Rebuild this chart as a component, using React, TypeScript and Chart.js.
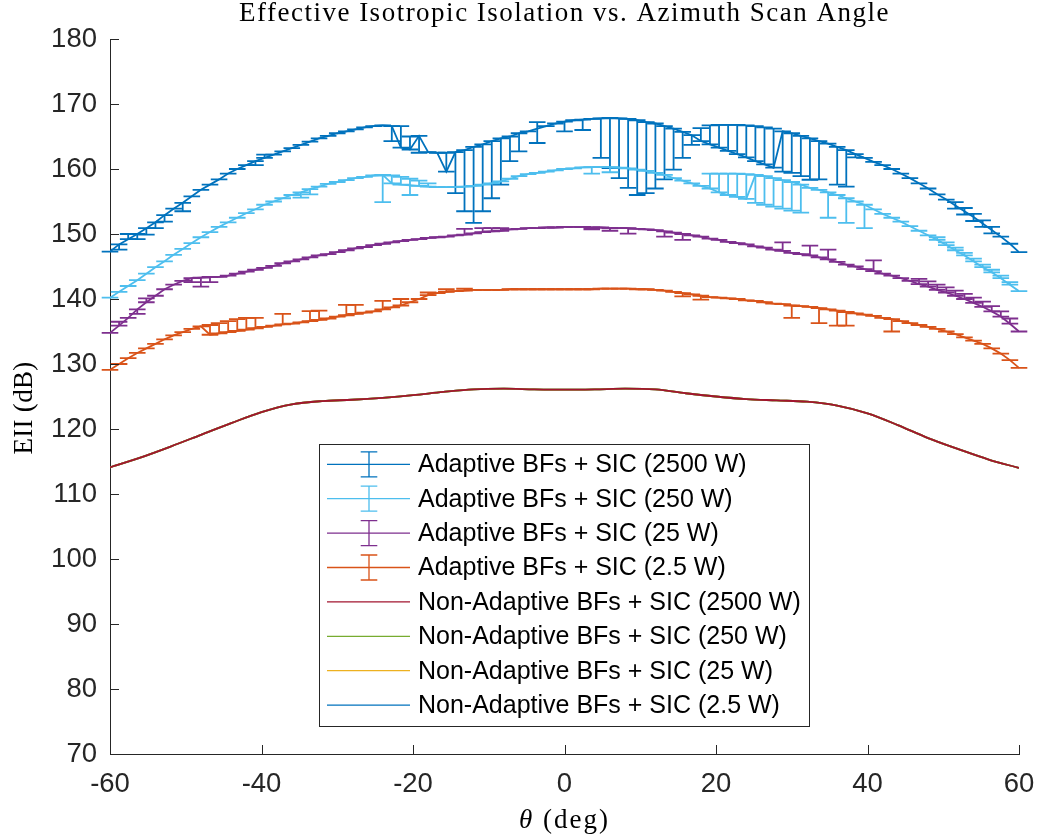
import React, { useEffect, useRef } from 'react';
import { Chart, registerables } from 'chart.js';

Chart.register(...registerables);

// ---------------- data ----------------
const thetaDeg = [
  -60, -58.8, -57.6, -56.4, -55.2, -54, -52.8, -51.6, -50.4, -49.2,
  -48, -46.8, -45.6, -44.4, -43.2, -42, -40.8, -39.6, -38.4, -37.2,
  -36, -34.8, -33.6, -32.4, -31.2, -30, -28.8, -27.6, -26.4, -25.2,
  -24, -22.8, -21.6, -20.4, -19.2, -18, -16.8, -15.6, -14.4, -13.2,
  -12, -10.8, -9.6, -8.4, -7.2, -6, -4.8, -3.6, -2.4, -1.2,
  0, 1.2, 2.4, 3.6, 4.8, 6, 7.2, 8.4, 9.6, 10.8,
  12, 13.2, 14.4, 15.6, 16.8, 18, 19.2, 20.4, 21.6, 22.8,
  24, 25.2, 26.4, 27.6, 28.8, 30, 31.2, 32.4, 33.6, 34.8,
  36, 37.2, 38.4, 39.6, 40.8, 42, 43.2, 44.4, 45.6, 46.8,
  48, 49.2, 50.4, 51.6, 52.8, 54, 55.2, 56.4, 57.6, 58.8,
  60,
];

// Adaptive BFs + SIC (2500 W)
const eii2500 = [
  147.3, 148.4, 149.2, 150.0, 150.9, 151.8, 152.9, 153.9, 154.8, 155.8,
  156.8, 157.6, 158.4, 159.3, 160.0, 160.6, 161.2, 161.7, 162.2, 162.7,
  163.2, 163.7, 164.2, 164.7, 165.1, 165.5, 165.8, 166.1, 166.4, 166.6,
  166.7, 166.6, 163.3, 163.0, 165.1, 162.6, 162.5, 159.6, 162.6, 162.9,
  163.4, 163.8, 164.3, 164.7, 165.0, 165.5, 165.8, 166.2, 166.6, 167.0,
  167.3, 167.5, 167.6, 167.7, 167.8, 167.85, 167.8, 167.7, 167.5, 167.2,
  167.0, 166.6, 166.2, 165.7, 165.2, 164.3, 163.8, 163.3, 162.8, 162.3,
  161.8, 161.2, 160.7, 160.2, 165.8, 165.5, 165.1, 164.7, 164.3, 163.9,
  163.4, 162.9, 162.3, 161.7, 161.1, 160.6, 160.0, 159.3, 158.6, 157.8,
  157.0, 156.1, 155.3, 154.4, 153.5, 152.6, 151.6, 150.6, 149.6, 148.5,
  147.2,
];
const eii2500Lo = [
  0, 0.8, 0, 0.8, 1.0, 0.9, 1.0, 0, 1.3, 0,
  0, 0, 0, 0, 0, 0, 0.6, 0, 0, 0,
  0, 0, 0, 0, 0, 0, 0, 0, 0, 0,
  0, 2.3, 0, 0, 2.6, 0, 0, 0, 6.3, 9.4,
  11.7, 10.3, 8.8, 7.1, 3.8, 2.8, 0, 2.2, 0, 0,
  1.5, 0, 1.6, 0, 6.1, 7.7, 9.2, 10.6, 11.5, 10.9,
  10.0, 8.2, 6.3, 4.0, 1.5, 0, 0, 0, 0, 0,
  0, 0, 0, 0, 6.2, 6.1, 6.2, 6.35, 5.9, 0,
  5.8, 5.6, 0.5, 0, 0, 0, 0, 0, 0, 0,
  0, 0, 0, 0.5, 0.5, 0.6, 0.5, 0.5, 0, 0,
  0,
];
const eii2500Hi = [
  0, 0, 0.8, 0, 0, 0, 0, 0, 0, 0,
  0, 0, 0, 0, 0, 0, 0, 0.5, 0, 0,
  0, 0, 0, 0, 0, 0, 0, 0, 0, 0,
  0, 0, 3.3, 2.0, 0, 0, 0, 2.9, 0, 0,
  0, 0, 0, 0, 0, 0, 0, 1.0, 0, 0,
  0, 0, 0, 0, 0, 0, 0, 0, 0, 0,
  0, 0, 0, 0, 0, 2.0, 2.9, 3.5, 4.0, 4.5,
  4.9, 5.4, 5.7, 6.0, 0, 0, 0, 0, 0, 0,
  0, 0, 0, 0, 0, 0, 0, 0, 0, 0,
  0, 0, 0, 0.5, 0.5, 0.5, 0.5, 0.5, 0, 0,
  0,
];

// Adaptive BFs + SIC (250 W)
const eii250 = [
  140.2, 141.1, 142.0, 142.9, 143.9, 144.9, 145.8, 146.8, 147.7, 148.6,
  149.5, 150.3, 151.1, 151.8, 152.5, 153.2, 153.8, 154.5, 155.0, 155.5,
  156.0, 156.4, 156.9, 157.3, 157.7, 158.0, 158.3, 158.6, 158.8, 159.0,
  159.1, 157.8, 157.6, 157.5, 157.4, 157.3, 157.2, 157.2, 157.2, 157.3,
  157.4, 157.6, 157.8, 158.1, 158.5, 158.9, 159.2, 159.4, 159.6, 159.8,
  160.0, 160.1, 160.25, 160.3, 160.3, 160.3, 160.2, 160.1, 159.9, 159.7,
  159.4, 159.1, 158.6, 158.2, 157.8, 157.4, 157.0, 156.4, 156.0, 155.7,
  155.4, 159.1, 158.9, 158.6, 158.3, 158.0, 157.6, 157.1, 156.8, 156.4,
  156.0, 155.5, 155.0, 154.5, 153.8, 153.1, 152.5, 151.9, 151.2, 150.5,
  149.8, 149.1, 148.3, 147.5, 146.7, 145.8, 144.9, 144.1, 143.2, 142.2,
  141.2,
];
const eii250Lo = [
  0, 0, 0, 0, 0, 0, 0, 0, 0, 0,
  0, 0, 0, 0, 0, 0, 0, 0, 0, 0,
  0, 0.8, 0.8, 0, 0, 0, 0, 0, 0, 0,
  4.2, 0, 0, 1.5, 0, 0, 0, 0, 0, 0,
  0, 0, 0, 0, 0, 0, 0, 0, 0, 0,
  0, 0, 0, 1.0, 0, 0.8, 0, 0, 0, 0,
  0, 0, 0, 0, 0, 0, 0, 0, 0, 0,
  0, 4.3, 4.4, 4.4, 4.4, 4.4, 4.3, 0, 0, 3.9,
  0, 3.8, 0, 3.6, 0, 0, 0, 0, 0, 0,
  0, 0, 0, 0, 0, 0, 0, 0, 0, 0,
  0,
];
const eii250Hi = [
  0, 0, 0, 0, 0, 0, 0, 0, 0, 0,
  0, 0, 0, 0, 0, 0, 0, 0, 0, 0,
  0, 0, 0, 0, 0, 0, 0, 0, 0, 0,
  0, 1.2, 1.2, 1.0, 0.8, 0.5, 0, 0, 0, 0,
  0, 0, 0, 0, 0, 0, 0, 0, 0, 0,
  0, 0, 0, 0, 0, 0, 0, 0, 0, 0,
  0, 0, 0, 0, 0, 0, 2.3, 2.9, 3.3, 3.6,
  3.8, 0, 0, 0, 0, 0, 0, 0, 0, 0,
  0, 0, 0, 0, 0, 0, 0, 0, 0, 0,
  0, 0.4, 0.4, 0.4, 0.4, 0.4, 0.4, 0.4, 0.4, 0.4,
  0,
];

// Adaptive BFs + SIC (25 W)
const eii25 = [
  134.8, 135.9, 137.1, 138.4, 139.5, 140.5, 141.5, 142.2, 142.8, 143.2,
  143.3, 143.4, 143.4, 143.6, 143.9, 144.2, 144.5, 144.8, 145.1, 145.5,
  145.8, 146.1, 146.4, 146.7, 146.9, 147.2, 147.5, 147.8, 148.0, 148.3,
  148.5, 148.7, 148.9, 149.1, 149.2, 149.4, 149.5, 149.6, 149.8, 149.9,
  150.1, 150.3, 150.4, 150.5, 150.7, 150.8, 150.9, 150.9, 151.0, 151.0,
  151.1, 151.1, 151.1, 151.0, 151.0, 150.9, 150.9, 150.9, 150.8, 150.7,
  150.6, 150.4, 150.2, 150.0, 149.8, 149.6, 149.3, 149.1, 148.8, 148.6,
  148.4, 148.1, 147.9, 147.6, 147.4, 147.1, 146.9, 146.7, 146.4, 146.1,
  145.7, 145.3, 145.0, 144.6, 144.3, 143.9, 143.6, 143.2, 142.8, 142.3,
  141.9, 141.4, 141.0, 140.5, 140.0, 139.4, 138.8, 138.1, 137.3, 136.2,
  135.0,
];
const eii25Lo = [
  0, 0, 0, 0.7, 0, 0, 0, 0, 0, 0.6,
  1.4, 0.8, 0, 0, 0, 0, 0, 0, 0, 0,
  0, 0, 0, 0, 0, 0, 0, 0, 0, 0,
  0, 0, 0, 0, 0, 0, 0, 0, 0, 0,
  0, 0, 0, 0, 0, 0, 0, 0, 0, 0,
  0, 0, 0, 0.3, 0, 0.4, 0, 0.85, 0, 0,
  0, 0.8, 0, 0.9, 0, 0, 0, 0, 0, 0,
  0, 0, 0, 0, 0, 0, 0, 0, 0, 0,
  0, 0, 0, 0, 0, 0, 0, 0, 0, 0,
  0, 0, 0, 0, 0, 0, 0, 0, 0, 0,
  0,
];
const eii25Hi = [
  0, 0.6, 0, 0, 0.6, 0, 0, 0, 0, 0,
  0, 0, 0, 0, 0, 0, 0, 0, 0, 0,
  0, 0, 0, 0, 0, 0, 0, 0, 0, 0,
  0, 0, 0, 0, 0, 0, 0, 0, 0, 0.9,
  0, 0.6, 0.5, 0.4, 0, 0, 0, 0, 0, 0,
  0, 0, 0, 0, 0, 0, 0, 0, 0, 0,
  0, 0, 0, 0, 0, 0, 0, 0, 0, 0,
  0, 0, 0, 0, 1.3, 0, 0, 1.5, 0, 1.5,
  0, 0, 0, 0, 1.65, 0, 0, 0, 0, 0.8,
  0.8, 0.8, 0.8, 0.8, 0.8, 0.8, 0.8, 0.8, 0.8, 0.8,
  0,
];

// Adaptive BFs + SIC (2.5 W)
const eii2p5 = [
  129.1, 130.0, 130.9, 131.7, 132.4, 133.1, 133.8, 134.4, 134.9, 135.4,
  135.8, 134.5, 134.7, 134.9, 135.1, 135.3, 135.5, 135.7, 135.9, 136.1,
  136.2, 136.4, 136.6, 136.8, 137.0, 137.3, 137.5, 137.7, 137.9, 138.1,
  138.4, 138.7, 139.0, 139.5, 140.0, 140.6, 140.9, 141.1, 141.2, 141.3,
  141.4, 141.4, 141.4, 141.4, 141.5, 141.5, 141.5, 141.5, 141.5, 141.5,
  141.5, 141.5, 141.5, 141.5, 141.6, 141.6, 141.6, 141.6, 141.5, 141.5,
  141.4, 141.3, 141.1, 140.9, 140.7, 140.5, 140.3, 140.2, 140.1, 140.0,
  139.8, 139.7, 139.5, 139.3, 139.2, 139.0, 138.9, 138.8, 138.6, 138.4,
  138.2, 138.0, 137.8, 137.6, 137.4, 137.1, 136.9, 136.6, 136.3, 136.0,
  135.7, 135.4, 135.0, 134.6, 134.1, 133.6, 133.1, 132.4, 131.6, 130.6,
  129.4,
];
const eii2p5Lo = [
  0, 0, 0, 0, 0, 0, 0, 0, 0, 0,
  0, 0, 0, 0, 0, 0, 0, 0, 0, 0,
  0, 0, 0, 0, 0, 0, 0, 0, 0, 0,
  0, 0, 0, 0, 0, 0, 0, 0, 0, 0,
  0, 0, 0, 0, 0, 0, 0, 0, 0, 0,
  0, 0, 0, 0, 0, 0, 0, 0, 0, 0,
  0, 0, 0, 0.5, 0, 0.6, 0, 0, 0, 0,
  0, 0, 0, 0, 0, 1.9, 0, 0, 2.3, 0,
  2.3, 2.1, 0, 0, 0, 0, 1.9, 0, 0, 0,
  0, 0, 0, 0, 0, 0, 0, 0, 0, 0,
  0,
];
const eii2p5Hi = [
  0, 0, 0, 0, 0, 0, 0, 0, 0, 0,
  0, 1.5, 1.6, 1.7, 1.8, 1.8, 1.6, 0, 0, 1.6,
  0, 0, 1.55, 1.4, 0, 0, 1.6, 1.4, 0, 0,
  1.3, 0, 1.0, 0, 0, 0.4, 0, 0.4, 0, 0.3,
  0, 0, 0, 0, 0, 0, 0, 0, 0, 0,
  0, 0, 0, 0, 0, 0, 0, 0, 0, 0,
  0, 0, 0, 0, 0, 0, 0, 0, 0, 0,
  0, 0, 0, 0, 0, 0, 0, 0, 0, 0,
  0, 0, 0, 0, 0, 0, 0, 0, 0, 0,
  0, 0, 0, 0, 0, 0, 0, 0, 0, 0,
  0,
];

// Non-Adaptive BFs + SIC (all powers coincide)
const naTheta = [
  -60, -56, -52, -48, -44, -40, -36, -32, -28, -24, -20, -16, -12, -8, -4, 0,
  4, 8, 12, 16, 20, 24, 28, 32, 36, 40, 44, 48, 52, 56, 60,
];
const eiiNonAdaptive = [
  114.1, 115.6, 117.3, 119.1, 120.9, 122.6, 123.8, 124.3, 124.5, 124.8, 125.2, 125.7, 126.1, 126.2, 126.1, 126.05,
  126.1, 126.2, 126.1, 125.5, 125.0, 124.6, 124.4, 124.2, 123.6, 122.4, 120.6, 118.6, 116.9, 115.3, 114.0,
];

const xTickValues = [-60, -40, -20, 0, 20, 40, 60];
const yTickValues = [70, 80, 90, 100, 110, 120, 130, 140, 150, 160, 170, 180];

const legendLabels = [
  'Adaptive BFs + SIC (2500 W)',
  'Adaptive BFs + SIC (250 W)',
  'Adaptive BFs + SIC (25 W)',
  'Adaptive BFs + SIC (2.5 W)',
  'Non-Adaptive BFs + SIC (2500 W)',
  'Non-Adaptive BFs + SIC (250 W)',
  'Non-Adaptive BFs + SIC (25 W)',
  'Non-Adaptive BFs + SIC (2.5 W)',
];
const seriesColors = ['#0072BD', '#4DBEEE', '#7E2F8E', '#D95319', '#A2142F', '#77AC30', '#EDB120', '#0072BD'];

const titleText = 'Effective Isotropic Isolation vs. Azimuth Scan Angle';
const yLabelText = 'EII (dB)';
const xLabelSymbol = 'θ';
const xLabelUnit = ' (deg)';

// ---------------- styling ----------------
const AXIS_COLOR = '#262626';
const LINE_W = 1.8;
const CAP = 8.3;
const TICK_LEN = 9;
const TICK_FONT = '"Liberation Sans", Arial, sans-serif';
const SERIF = '"Liberation Serif", "Times New Roman", serif';

const errorBarPlugin = {
  id: 'errorBars',
  afterDatasetDraw(chart: any, args: any) {
    const ds = chart.data.datasets[args.index];
    if (!ds.errLo) return;
    const ctx = chart.ctx;
    const xs = chart.scales.x;
    const ys = chart.scales.y;
    ctx.save();
    ctx.strokeStyle = ds.borderColor;
    ctx.lineWidth = LINE_W;
    ctx.lineCap = 'butt';
    ds.data.forEach((p: any, i: number) => {
      const px = xs.getPixelForValue(p.x);
      const yl = ys.getPixelForValue(p.y - ds.errLo[i]);
      const yh = ys.getPixelForValue(p.y + ds.errHi[i]);
      ctx.beginPath();
      if (Math.abs(yl - yh) > 0.5) {
        ctx.moveTo(px, yl);
        ctx.lineTo(px, yh);
      }
      ctx.moveTo(px - CAP, yl);
      ctx.lineTo(px + CAP, yl);
      ctx.moveTo(px - CAP, yh);
      ctx.lineTo(px + CAP, yh);
      ctx.stroke();
    });
    ctx.restore();
  },
};

const decorPlugin = {
  id: 'decor',
  afterDraw(chart: any) {
    const ctx = chart.ctx;
    const area = chart.chartArea;
    const xs = chart.scales.x;
    const ys = chart.scales.y;
    ctx.save();
    // inward ticks
    ctx.strokeStyle = AXIS_COLOR;
    ctx.lineWidth = 1;
    ctx.beginPath();
    yTickValues.forEach((v) => {
      const py = Math.round(ys.getPixelForValue(v)) + 0.5;
      ctx.moveTo(area.left, py);
      ctx.lineTo(area.left + TICK_LEN, py);
    });
    xTickValues.forEach((v) => {
      const px = Math.round(xs.getPixelForValue(v)) + 0.5;
      ctx.moveTo(px, area.bottom);
      ctx.lineTo(px, area.bottom - TICK_LEN);
    });
    ctx.stroke();

    const cx = (area.left + area.right) / 2;
    // title
    ctx.fillStyle = '#000';
    ctx.font = `27px ${SERIF}`;
    (ctx as any).letterSpacing = '1.5px';
    ctx.textAlign = 'center';
    ctx.textBaseline = 'alphabetic';
    ctx.fillText(titleText, cx, 21);

    // x label
    (ctx as any).letterSpacing = '2px';
    ctx.textAlign = 'left';
    ctx.font = `italic 27px ${SERIF}`;
    const w1 = ctx.measureText(xLabelSymbol).width;
    ctx.font = `27px ${SERIF}`;
    const w2 = ctx.measureText(xLabelUnit).width;
    const sx = cx - (w1 + w2) / 2;
    ctx.font = `italic 27px ${SERIF}`;
    ctx.fillText(xLabelSymbol, sx, 828);
    ctx.font = `27px ${SERIF}`;
    ctx.fillText(xLabelUnit, sx + w1, 828);

    // y label
    (ctx as any).letterSpacing = '0.3px';
    ctx.save();
    ctx.translate(32, 408);
    ctx.rotate(-Math.PI / 2);
    ctx.textAlign = 'center';
    ctx.font = `27px ${SERIF}`;
    ctx.fillText(yLabelText, 0, 0);
    ctx.restore();
    (ctx as any).letterSpacing = '0px';

    // legend
    const bx = 319.5, by = 444.5, bw = 490, bh = 282;
    ctx.fillStyle = '#fff';
    ctx.fillRect(bx, by, bw, bh);
    ctx.strokeStyle = AXIS_COLOR;
    ctx.lineWidth = 1;
    ctx.strokeRect(bx, by, bw, bh);
    legendLabels.forEach((label, k) => {
      const cy = 464.3 + k * 34.4;
      ctx.strokeStyle = seriesColors[k];
      ctx.lineWidth = 1.3;
      ctx.beginPath();
      ctx.moveTo(327, cy);
      ctx.lineTo(410, cy);
      if (k < 4) {
        ctx.moveTo(369, cy - 12.5);
        ctx.lineTo(369, cy + 12.5);
        ctx.moveTo(369 - CAP, cy - 12.5);
        ctx.lineTo(369 + CAP, cy - 12.5);
        ctx.moveTo(369 - CAP, cy + 12.5);
        ctx.lineTo(369 + CAP, cy + 12.5);
      }
      ctx.stroke();
      ctx.fillStyle = '#000';
      ctx.font = `25px ${TICK_FONT}`;
      ctx.textAlign = 'left';
      ctx.textBaseline = 'middle';
      ctx.fillText(label, 418, cy + 1);
    });
    ctx.restore();
  },
};

function makeAdaptive(k: number, vals: number[], lo: number[], hi: number[], order: number) {
  return {
    label: legendLabels[k],
    data: thetaDeg.map((x, i) => ({ x, y: vals[i] })),
    borderColor: seriesColors[k],
    backgroundColor: seriesColors[k],
    borderWidth: LINE_W,
    pointRadius: 0,
    tension: 0,
    fill: false,
    order,
    errLo: lo,
    errHi: hi,
  };
}

function makeNonAdaptive(k: number, order: number) {
  return {
    label: legendLabels[k],
    data: naTheta.map((x, i) => ({ x, y: eiiNonAdaptive[i] })),
    borderColor: seriesColors[k],
    backgroundColor: seriesColors[k],
    borderWidth: LINE_W,
    pointRadius: 0,
    cubicInterpolationMode: 'monotone' as const,
    fill: false,
    order,
  };
}

export default function App() {
  const canvasRef = useRef<HTMLCanvasElement | null>(null);

  useEffect(() => {
    if (!canvasRef.current) return;
    const chart = new Chart(canvasRef.current, {
      type: 'line',
      data: {
        datasets: [
          makeAdaptive(0, eii2500, eii2500Lo, eii2500Hi, 4),
          makeAdaptive(1, eii250, eii250Lo, eii250Hi, 3),
          makeAdaptive(2, eii25, eii25Lo, eii25Hi, 2),
          makeAdaptive(3, eii2p5, eii2p5Lo, eii2p5Hi, 1),
          makeNonAdaptive(4, 5),
          makeNonAdaptive(5, 6),
          makeNonAdaptive(6, 7),
          makeNonAdaptive(7, 8),
        ] as any,
      },
      options: {
        animation: false,
        responsive: false,
        devicePixelRatio: 1,
        layout: { padding: { top: 39, right: 19, left: 0, bottom: 0 } },
        plugins: {
          legend: { display: false },
          title: { display: false },
          tooltip: { enabled: false },
        },
        events: [],
        scales: {
          x: {
            type: 'linear',
            min: -60,
            max: 60,
            afterBuildTicks: (s: any) => {
              s.ticks = xTickValues.map((v) => ({ value: v }));
            },
            afterFit: (s: any) => {
              s.height = 85;
              s.paddingLeft = 0;
              s.paddingRight = 0;
            },
            grid: { display: false, drawTicks: false },
            border: { display: true, color: AXIS_COLOR, width: 1 },
            ticks: {
              color: AXIS_COLOR,
              font: { family: TICK_FONT, size: 27.5 },
              padding: 14,
              maxRotation: 0,
              autoSkip: false,
              callback: (v: any) => `${v}`,
            },
          },
          y: {
            type: 'linear',
            min: 70,
            max: 180,
            afterBuildTicks: (s: any) => {
              s.ticks = yTickValues.map((v) => ({ value: v }));
            },
            afterFit: (s: any) => {
              s.width = 110;
              s.paddingTop = 0;
              s.paddingBottom = 0;
            },
            grid: { display: false, drawTicks: false },
            border: { display: true, color: AXIS_COLOR, width: 1 },
            ticks: {
              color: AXIS_COLOR,
              font: { family: TICK_FONT, size: 27.5 },
              padding: 13,
              autoSkip: false,
              callback: (v: any) => `${v}`,
            },
          },
        },
      },
      plugins: [errorBarPlugin, decorPlugin],
    });
    return () => chart.destroy();
  }, []);

  return (
    <div style={{ position: 'absolute', left: 0, top: 0, width: 1038, height: 839, background: '#fff' }}>
      <canvas ref={canvasRef} width={1038} height={839} style={{ display: 'block' }} />
    </div>
  );
}
